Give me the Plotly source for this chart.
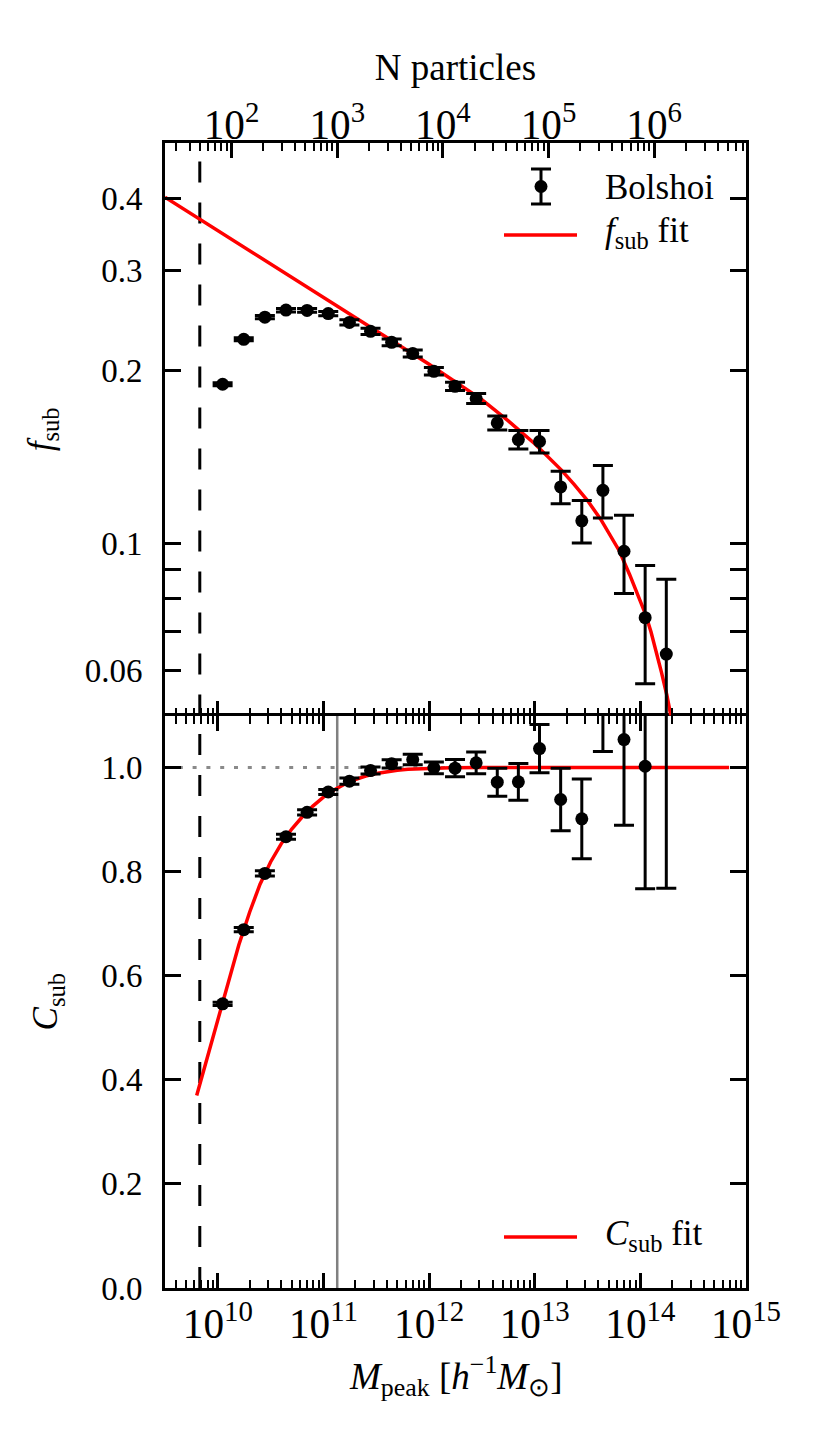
import math
import plotly.graph_objects as go

# ---------------- data ----------------
mpeak = [1.11e10, 1.76e10, 2.79e10, 4.42e10, 7.00e10, 1.11e11, 1.76e11, 2.79e11,
         4.42e11, 7.00e11, 1.11e12, 1.76e12, 2.79e12, 4.42e12, 7.00e12, 1.11e13,
         1.76e13, 2.79e13, 4.42e13, 7.00e13, 1.11e14, 1.76e14]

fsub = [0.1895, 0.2270, 0.2482, 0.2553, 0.2550, 0.2518, 0.2430, 0.2344,
        0.2243, 0.2144, 0.1996, 0.1879, 0.1789, 0.1622, 0.1517, 0.1505,
        0.1254, 0.1094, 0.1237, 0.0968, 0.0741, 0.0640]
fsub_err = [0.0012, 0.0014, 0.0016, 0.0018, 0.0020, 0.0022, 0.0026, 0.0030,
            0.0030, 0.0030, 0.0030, 0.0031, 0.0036, 0.0045, 0.0056, 0.0068,
            0.0082, 0.0093, 0.0130, 0.0151, 0.0173, 0.0225]

csub = [0.546, 0.6885, 0.7966, 0.867, 0.914, 0.953, 0.9737, 0.9942,
        1.0071, 1.0154, 0.9994, 0.9987, 1.009, 0.9718, 0.9725, 1.0365,
        0.9386, 0.9015, 1.151, 1.0537, 1.0025, 1.128]
csub_err = [0.003, 0.004, 0.005, 0.005, 0.005, 0.005, 0.006, 0.0067,
            0.008, 0.010, 0.0112, 0.0166, 0.0208, 0.0269, 0.0352, 0.0464,
            0.0601, 0.0765, 0.120, 0.1644, 0.2353, 0.360]

# f_sub fit curve, sampled along the red line
fit_f_mass = [3.16e9, 1.0e10, 3.16e10, 1.0e11, 3.16e11, 1.0e12, 3.16e12, 5.62e12,
              1.0e13, 1.78e13, 2.37e13, 3.16e13, 4.22e13, 5.62e13, 6.31e13, 7.94e13,
              1.0e14, 1.12e14, 1.26e14, 1.41e14, 1.58e14, 1.78e14, 2.0e14, 2.24e14]
fit_f = [0.4021, 0.3518, 0.3078, 0.2692, 0.2354, 0.2054, 0.1781, 0.1635,
         0.1492, 0.1343, 0.1265, 0.1187, 0.1100, 0.1008, 0.0970, 0.0880,
         0.0793, 0.0751, 0.0700, 0.0648, 0.0596, 0.0543, 0.0490, 0.0437]

# C_sub fit curve, sampled along the red line
fit_c_mass = [6.31e9, 7.94e9, 1.0e10, 1.26e10, 1.58e10, 2.0e10, 2.51e10, 3.16e10,
              3.98e10, 5.01e10, 6.31e10, 7.94e10, 1.0e11, 1.26e11, 1.58e11, 2.0e11,
              2.51e11, 3.16e11, 3.98e11, 5.01e11, 6.31e11, 1.0e12, 1.58e12, 3.16e12,
              6.92e14]
fit_c = [0.370, 0.444, 0.518, 0.590, 0.659, 0.722, 0.776, 0.8186,
         0.8534, 0.8819, 0.9054, 0.926, 0.9432, 0.957, 0.9678, 0.9767,
         0.9837, 0.9887, 0.9923, 0.995, 0.9969, 0.9988, 0.9996, 1.0,
         1.0]

particle_mass = 1.35e8      # h^-1 Msun per particle
n_min = 50                  # dashed line
n_res = 1000                # grey line
mass_range_log = [9.5, 15.0]
fsub_range = [0.05, 0.5]
csub_range = [0.0, 1.1]
fsub_ticks = [0.06, 0.07, 0.08, 0.09, 0.1, 0.2, 0.3, 0.4]
fsub_ticktext = ["0.06", "", "", "", "0.1", "0.2", "0.3", "0.4"]
csub_ticks = [0.0, 0.2, 0.4, 0.6, 0.8, 1.0]
csub_ticktext = ["0.0", "0.2", "0.4", "0.6", "0.8", "1.0"]

# ---------------- figure ----------------
FONT = "Liberation Serif"
FS = 33        # tick labels
FT = 35        # legend text, y titles
FX = 37        # x titles
# the page body has an 8px margin, so the figure is sized to fit inside it
OFF = 8
W, H = 829 - OFF, 1432 - OFF
ML, MR, MT, MB = 165 - OFF, 83, 143 - OFF, 144

fig = go.Figure()

m_lo, m_hi = 10 ** mass_range_log[0], 10 ** mass_range_log[1]
m50 = n_min * particle_mass
m1000 = n_res * particle_mass
n_range_log = [r - math.log10(particle_mass) for r in mass_range_log]

# reference lines
fig.add_trace(go.Scatter(x=[m50, m50], y=fsub_range, xaxis="x2", yaxis="y2", mode="lines",
                         line=dict(color="black", width=3, dash="21px,20px"),
                         showlegend=False, hoverinfo="skip"))
fig.add_trace(go.Scatter(x=[m50, m50], y=csub_range, xaxis="x", yaxis="y", mode="lines",
                         line=dict(color="black", width=3, dash="21px,20px"),
                         showlegend=False, hoverinfo="skip"))
fig.add_trace(go.Scatter(x=[m1000, m1000], y=csub_range, xaxis="x", yaxis="y", mode="lines",
                         line=dict(color="#808080", width=2.5),
                         showlegend=False, hoverinfo="skip"))
fig.add_trace(go.Scatter(x=[m_lo, m_hi], y=[1.0, 1.0], xaxis="x", yaxis="y", mode="lines",
                         line=dict(color="#8a8a8a", width=3, dash="4px,9.8px"),
                         showlegend=False, hoverinfo="skip"))

# invisible carrier so the top "N particles" axis is drawn
fig.add_trace(go.Scatter(x=[10 ** n_range_log[0], 10 ** n_range_log[1]], y=fsub_range,
                         xaxis="x3", yaxis="y2", mode="markers",
                         marker=dict(opacity=0, size=1), showlegend=False,
                         hoverinfo="skip"))

# fits
fig.add_trace(go.Scatter(x=fit_f_mass, y=fit_f, xaxis="x2", yaxis="y2", mode="lines",
                         line=dict(color="#ff0000", width=3.5), name="f_sub fit",
                         showlegend=False))
fig.add_trace(go.Scatter(x=fit_c_mass, y=fit_c, xaxis="x", yaxis="y", mode="lines",
                         line=dict(color="#ff0000", width=3.5), name="C_sub fit",
                         showlegend=False))

# data
fig.add_trace(go.Scatter(x=mpeak, y=fsub, xaxis="x2", yaxis="y2", mode="markers",
                         marker=dict(color="black", size=13),
                         error_y=dict(type="data", array=fsub_err, color="black",
                                      thickness=3, width=10),
                         name="Bolshoi", showlegend=False))
fig.add_trace(go.Scatter(x=mpeak, y=csub, xaxis="x", yaxis="y", mode="markers",
                         marker=dict(color="black", size=13),
                         error_y=dict(type="data", array=csub_err, color="black",
                                      thickness=3, width=10),
                         name="Bolshoi", showlegend=False))

tickfont = dict(family=FONT, size=FS, color="black")
common = dict(showgrid=False, zeroline=False, showline=True, linecolor="black",
              linewidth=3, ticks="inside", tickcolor="black", tickwidth=2.5,
              tickfont=tickfont, automargin=False)
minor = dict(ticks="inside", ticklen=8, tickwidth=2, tickcolor="black",
             dtick="D1", showgrid=False)

fig.update_layout(
    width=W, height=H, autosize=False,
    margin=dict(l=ML, r=MR, t=MT, b=MB, pad=0),
    paper_bgcolor="white", plot_bgcolor="white",
    font=dict(family=FONT, size=FS, color="black"),
    xaxis=dict(common, type="log", range=mass_range_log, domain=[0, 1], anchor="y",
               dtick=1, exponentformat="power", showexponent="all",
               ticklen=15, mirror="ticks", minor=minor, ticklabelstandoff=-1),
    xaxis2=dict(common, type="log", range=mass_range_log, domain=[0, 1], anchor="y2",
                dtick=1, showticklabels=False, ticklen=15, mirror=False, minor=minor,
                showline=False),
    xaxis3=dict(common, type="log", range=n_range_log, domain=[0, 1], anchor="y2",
                overlaying="x2", side="top", dtick=1, exponentformat="power",
                showexponent="all", ticklen=15, minor=minor, ticklabelstandoff=-14,
                title=dict(text="N particles", font=dict(family=FONT, size=FX), standoff=4)),
    yaxis=dict(common, range=csub_range, domain=[0, 0.5], anchor="x",
               tickmode="array", tickvals=csub_ticks, ticktext=csub_ticktext,
               ticklen=16, mirror="ticks", ticklabelstandoff=13,
               title=dict(text="<i>C</i><sub>sub</sub>", font=dict(family=FONT, size=FT),
                          standoff=33)),
    yaxis2=dict(common, type="log", range=[math.log10(v) for v in fsub_range],
                domain=[0.5, 1], anchor="x2",
                tickmode="array", tickvals=fsub_ticks, ticktext=fsub_ticktext,
                ticklen=16, mirror="ticks", ticklabelstandoff=13,
                title=dict(text="<i>f</i><sub>sub</sub>", font=dict(family=FONT, size=FT),
                           standoff=22)),
)

# ---------------- hand-made legends and x title (paper coordinates) ----------------
PW = W - ML - MR
PH = H - MT - MB
X0_WIN = ML + OFF           # window x of plot left edge
Y1_WIN = H - MB + OFF       # window y of plot bottom edge


def px(xp):
    return (xp - X0_WIN) / PW


def py(yp):
    return (Y1_WIN - yp) / PH


shapes = []
# Bolshoi errorbar glyph
gx = px(541)
shapes.append(dict(type="line", xref="paper", yref="paper", x0=gx, x1=gx,
                   y0=py(169), y1=py(204), line=dict(color="black", width=3)))
for yc in (169, 204):
    shapes.append(dict(type="line", xref="paper", yref="paper", xsizemode="pixel",
                       xanchor=gx, x0=-10, x1=10, y0=py(yc), y1=py(yc),
                       line=dict(color="black", width=3)))
shapes.append(dict(type="circle", xref="paper", yref="paper", xsizemode="pixel",
                   ysizemode="pixel", xanchor=gx, yanchor=py(186.5), x0=-6.5, x1=6.5,
                   y0=-6.5, y1=6.5, fillcolor="black", line=dict(color="black", width=0)))
# red fit glyphs
for yc in (235, 1237):
    shapes.append(dict(type="line", xref="paper", yref="paper", x0=px(504), x1=px(577),
                       y0=py(yc), y1=py(yc), line=dict(color="#ff0000", width=3.5)))
fig.update_layout(shapes=shapes)

ann = [
    ("Bolshoi", 187),
    ("<i>f</i><sub>sub</sub> fit", 233),
    ("<i>C</i><sub>sub</sub> fit", 1235),
]
for text, yc in ann:
    fig.add_annotation(text=text, xref="paper", yref="paper", x=px(603), y=py(yc),
                       xanchor="left", yanchor="middle", showarrow=False,
                       font=dict(family=FONT, size=FT, color="black"))

# x-axis title
fig.add_annotation(text="<i>M</i><sub>peak</sub> [<i>h</i><sup>−1</sup><i>M</i><sub>⊙</sub>]",
                   xref="paper", yref="paper", x=0.5, y=py(1376),
                   xanchor="center", yanchor="middle", showarrow=False,
                   font=dict(family=FONT, size=FX, color="black"))

fig.write_html("out.html")
